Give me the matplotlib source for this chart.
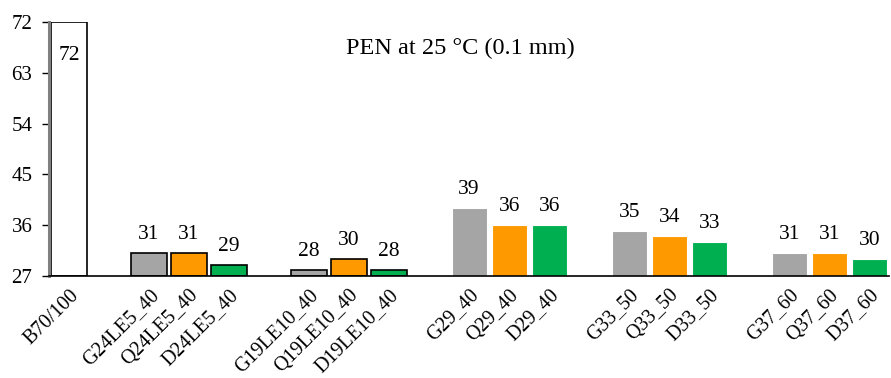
import matplotlib.pyplot as plt
import numpy as np

plt.rcParams['font.family'] = ['Liberation Serif', 'DejaVu Serif']

# slot labels ('' = gap between groups)
labels = ['B70/100', '',
          'G24LE5_40', 'Q24LE5_40', 'D24LE5_40', '',
          'G19LE10_40', 'Q19LE10_40', 'D19LE10_40', '',
          'G29_40', 'Q29_40', 'D29_40', '',
          'G33_50', 'Q33_50', 'D33_50', '',
          'G37_60', 'Q37_60', 'D37_60']
values = [72, None,
          31, 31, 29, None,
          28, 30, 28, None,
          39, 36, 36, None,
          35, 34, 33, None,
          31, 31, 30]
prefix_colors = {'B': 'white', 'G': '#A5A5A5', 'Q': '#FF9900', 'D': '#00B050'}
# groups drawn with black outlines
outlined = {'B70/100', 'G24LE5_40', 'Q24LE5_40', 'D24LE5_40',
            'G19LE10_40', 'Q19LE10_40', 'D19LE10_40'}

fig = plt.figure(figsize=(8.91, 3.78), dpi=100)
ax = fig.add_axes([0.055, 0.270, 0.943, 0.672])

base = 27
for i, (lab, v) in enumerate(zip(labels, values)):
    if v is None:
        continue
    ec = 'black' if lab in outlined else 'white'
    lw = 1.2 if lab in outlined else 0.8
    ax.bar(i, v - base, bottom=base, width=0.88, color=prefix_colors[lab[0]],
           edgecolor=ec, linewidth=lw, zorder=2)
    if lab == 'B70/100':
        ax.text(i, v - 4.3, str(v), ha='center', va='top', fontsize=15.5)
    else:
        ax.text(i, v + 1.6, str(v), ha='center', va='bottom', fontsize=15.5)

ax.set_xlim(-0.5, len(labels) - 0.5)
ax.set_ylim(27, 72)
ax.set_yticks(np.arange(27, 73, 9))
ax.tick_params(axis='y', length=5, width=1, color='black', direction='out',
               labelsize=15, pad=7)
ax.tick_params(axis='x', length=0, labelsize=14.5, pad=7)

idx = [i for i, l in enumerate(labels) if l]
ax.set_xticks(idx)
ax.set_xticklabels([labels[i] for i in idx], rotation=45, ha='right',
                   rotation_mode='anchor')

for s in ['top', 'right']:
    ax.spines[s].set_visible(False)
ax.spines['left'].set_color('#808080')
ax.spines['left'].set_linewidth(2.2)
ax.spines['bottom'].set_color('black')
ax.spines['bottom'].set_linewidth(1.2)
ax.spines['bottom'].set_zorder(3)

ax.text(0.49, 0.895, 'PEN at 25 °C (0.1 mm)', transform=ax.transAxes,
        ha='center', va='center', fontsize=17.5)

fig.savefig('out.png', dpi=100)
